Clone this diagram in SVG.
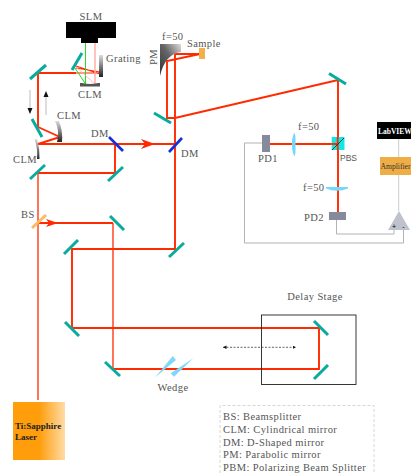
<svg xmlns="http://www.w3.org/2000/svg" width="411" height="473" viewBox="0 0 411 473">
<style>
text{font-family:"Liberation Serif","Times New Roman",serif;font-size:10.5px;fill:#555;letter-spacing:.4px}
.b{fill:none;stroke:#ff2a00;stroke-width:1.9}
.t{fill:none;stroke:#ff2a00;stroke-width:1.3}
.m{stroke:#0aab9f;stroke-width:3;fill:none}
.d{stroke:#1030e0;stroke-width:2.6;fill:none}
.w{fill:none;stroke:#aaa;stroke-width:.9}
.pd{fill:#868a9a}
.l{fill:#74d8fb}
.h{fill:#ff2a00}
.n{fill:#333}
.s{font-family:"Liberation Sans",sans-serif;fill:#000;font-size:7px;letter-spacing:0}
</style>
<defs>
<linearGradient id="g1" x1="0" y1="0" x2="0" y2="1"><stop offset="0" stop-color="#ddd"/><stop offset="1" stop-color="#222"/></linearGradient>
<linearGradient id="g3" x1="0" y1="1" x2="1" y2="0"><stop offset="0" stop-color="#333"/><stop offset=".55" stop-color="#666"/><stop offset="1" stop-color="#ddd"/></linearGradient>
<linearGradient id="g4" x1="0" y1="0" x2="1" y2="0"><stop offset="0" stop-color="#ff9d0a"/><stop offset=".5" stop-color="#ff9d0a"/><stop offset="1" stop-color="#ffdca6"/></linearGradient>
<marker id="ah" markerWidth="7" markerHeight="7" refX="5" refY="2.500" orient="auto-start-reverse"><path d="M0 0L5 2.500L0 5z" fill="#111"/></marker>
</defs>
<g id="connectors">
<path d="M38 400V173" class="t"/>
<path d="M38 173H115V144" class="b"/>
<path d="M38 144H175" class="b"/>
<path d="M38 144L60 137L38 127V73H76" class="b"/>
<path d="M38 223H113" class="b"/>
<path d="M113 223V369" class="t"/>
<path d="M113 369H319V328H72V249H175V118H167V61L200 54L175 54V118L338 80V212" class="b"/>
<path d="M332 144H267" class="b"/>
<path d="M76 73L100 73M76 68L100 72M76 66L100 74" fill="none" stroke="#ff2a00" stroke-width="1.200"/>
<path d="M85.500 43V84L75 68" fill="none" stroke="#22dd22" stroke-width="1"/>
<path d="M95 43V84" fill="none" stroke="#ffb0a8" stroke-width="1.500"/>
<path d="M95 84L76 67" fill="none" stroke="#ffb0a8" stroke-width=".8"/>
<path d="M244.500 143H262M244.500 143V243H403.500V229" class="w"/>
<path d="M336.500 220V234H394V226" class="w"/>
<path d="M398.700 139V211" fill="none" stroke="#ccc" stroke-width="1"/>
<path d="M30 90V113" fill="none" stroke="#aaa" stroke-width=".8"/>
<path d="M30 108L27.500 108L30 114L32.500 108z" fill="#111"/>
<path d="M46 115V96" fill="none" stroke="#aaa" stroke-width=".8"/>
<path d="M46 91L43.500 97L48.500 97z" fill="#111"/>
<path d="M223 347.300H296" fill="none" stroke="#222" stroke-width=".7" stroke-dasharray="2 1.500" marker-start="url(#ah)" marker-end="url(#ah)"/>
<path class="h" d="M141 139L155 144L141 149L145 144z"/>
<path class="h" d="M46 219L58 223L46 227L49 223z"/>
</g>
<g id="slm"><path d="M66 22H116V38H98V43H81V38H66z" fill="#000"/><text x="91" y="20" text-anchor="middle">SLM</text></g>
<g id="grating"><rect x="99" y="55" width="4" height="22" fill="url(#g1)"/><text x="106" y="62">Grating</text></g>
<g id="clm1"><path d="M80 83H82Q90 85 98 83H100V86.500H80z" fill="#555"/><text x="90" y="98" text-anchor="middle">CLM</text></g>
<g id="clm2"><path d="M55 121H59Q63 131 62 142H57Q60 131 55 121z" fill="url(#g1)"/><text x="57" y="119">CLM</text></g>
<g id="clm3"><path d="M34.500 139H37Q40 149 39.500 159H37Q38 149 34.500 139z" fill="url(#g1)"/><text x="13" y="163">CLM</text></g>
<g id="m1"><path class="m" d="M72 70L82 53"/></g>
<g id="m2"><path class="m" d="M30 79L46 65"/></g>
<g id="m3"><path class="m" d="M32 119L42 137"/></g>
<g id="m4"><path class="m" d="M30 179L45 165"/></g>
<g id="m5"><path class="m" d="M108 181L123 167"/></g>
<g id="m6"><path class="m" d="M154 113L171 123"/></g>
<g id="m7"><path class="m" d="M329 73.500L346 84"/></g>
<g id="m8"><path class="m" d="M169 257L184 243"/></g>
<g id="m9"><path class="m" d="M64 254L78 240"/></g>
<g id="m10"><path class="m" d="M65 322L79 336"/></g>
<g id="m11"><path class="m" d="M110 216L124 230"/></g>
<g id="m12"><path class="m" d="M105 362L120 376"/></g>
<g id="m13"><path class="m" d="M314 321L328 335"/></g>
<g id="m14"><path class="m" d="M314 379L328 365"/></g>
<g id="dm1"><path class="d" d="M109 137L123 151"/><text x="91" y="137">DM</text></g>
<g id="dm2"><path class="d" d="M169 152L182 138"/><text x="181" y="157">DM</text></g>
<g id="bs"><path d="M32 228L46 215" stroke="#ffb860" stroke-width="3" fill="none"/><text x="21" y="218">BS</text></g>
<g id="pm"><path d="M160 44H181V52Q165 54 160 76z" fill="url(#g3)"/><text x="162" y="40">f=50</text><text transform="translate(157 65) rotate(-90)">PM</text></g>
<g id="sample"><rect x="199" y="48" width="6" height="11" fill="#f0b050"/><text x="187" y="47">Sample</text></g>
<g id="pbs"><rect x="331.700" y="137" width="12.800" height="13" fill="#10e8e8"/><path d="M337.700 137V150M332 144H337.700" stroke="#ff2a00" stroke-width="1.900"/><path d="M332 150L344 138" stroke="#111" stroke-width=".8"/><text x="340" y="161" style="font-family:'Liberation Sans',sans-serif;font-size:8.500px;letter-spacing:0">PBS</text></g>
<g id="pd1"><rect class="pd" x="262" y="135" width="8" height="17"/><text x="258" y="162">PD1</text></g>
<g id="lens1"><path class="l" d="M294 133Q289.500 144 294 156Q295.500 156 295.500 150V139Q295.500 133 294 133z"/><text x="298" y="130">f=50</text></g>
<g id="lens2"><path class="l" d="M326 187H348V188.500Q337 193 326 188.500z"/><text x="303" y="191">f=50</text></g>
<g id="pd2"><rect class="pd" x="329" y="212" width="17" height="8"/><text x="304" y="221">PD2</text></g>
<g id="amp"><path d="M399 211L388 230H410z" fill="#bfc2cc"/><text x="394" y="229" text-anchor="middle" class="s">+</text><text x="403.500" y="229" text-anchor="middle" class="s">-</text></g>
<g id="labview"><rect x="377" y="122" width="34" height="17" fill="#000"/><text x="378" y="133.500" style="fill:#fff;font-size:7.500px;font-weight:bold;letter-spacing:0">LabVIEW</text></g>
<g id="amplifier"><rect x="380" y="157" width="31" height="18" fill="#eead45"/><text x="380.500" y="169" class="n" style="font-size:7.600px;letter-spacing:0">Amplifier</text></g>
<g id="laser"><rect x="13" y="402" width="52" height="58" fill="url(#g4)"/><text x="15" y="429" style="fill:#222;font-size:9px;font-weight:bold;letter-spacing:0">Ti:Sapphire</text><text x="15" y="440" style="fill:#222;font-size:9px;font-weight:bold;letter-spacing:0">Laser</text></g>
<g id="wedge"><path d="M155.300 377.300L172.700 356L176 360z" fill="#7fd8fc"/><path d="M170.700 373.300L174 376.700L193.300 358.300z" fill="#7fd8fc"/><text x="173" y="391" text-anchor="middle">Wedge</text></g>
<g id="delay"><rect x="261.500" y="315" width="94.500" height="69.500" fill="none" stroke="#222" stroke-width=".9"/><text x="315" y="300" text-anchor="middle">Delay Stage</text></g>
<g id="legend"><path d="M220 473V405.500H374V473" fill="none" stroke="#ccc" stroke-width=".8" stroke-dasharray="3 2"/>
<text x="223" y="420">BS: Beamsplitter</text>
<text x="223" y="433">CLM: Cylindrical mirror</text>
<text x="223" y="445.500">DM: D-Shaped mirror</text>
<text x="223" y="458">PM: Parabolic mirror</text>
<text x="223" y="470.500">PBM: Polarizing Beam Splitter</text></g>
</svg>
